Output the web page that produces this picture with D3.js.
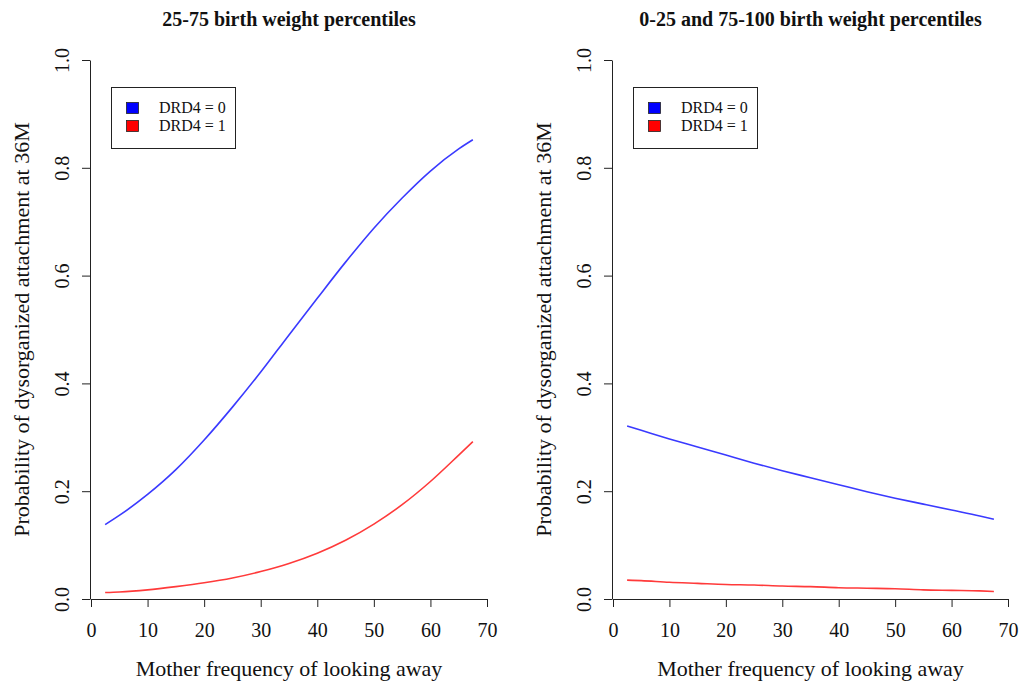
<!DOCTYPE html>
<html><head><meta charset="utf-8">
<script src="https://cdn.jsdelivr.net/npm/d3@7"></script>
<style>body{margin:0;background:#fff}svg{display:block}</style>
</head><body>
<svg id="c" width="1021" height="681"></svg>
<script>
const panelTitles = ["25-75 birth weight percentiles", "0-25 and 75-100 birth weight percentiles"];
const legendLabels = ["DRD4 = 0", "DRD4 = 1"];
const seriesColors = ["#3a3aff", "#ff3a3a"];
const legendColors = ["#0000ff", "#ff0000"];
const xTicks = [0, 10, 20, 30, 40, 50, 60, 70];
const yTicks = [0.0, 0.2, 0.4, 0.6, 0.8, 1.0];
const xLabel = "Mother frequency of looking away";
const yLabel = "Probability of dysorganized attachment at 36M";

// Left panel
const leftX = [2.5, 5, 10, 15, 20, 25, 30, 35, 40, 45, 50, 55, 60, 65, 67.5];
const leftDRD4_0 = [0.138, 0.155, 0.194, 0.240, 0.295, 0.356, 0.421, 0.490, 0.558, 0.625, 0.688, 0.744, 0.794, 0.835, 0.852];
const leftDRD4_1 = [0.012, 0.013, 0.017, 0.023, 0.030, 0.039, 0.051, 0.066, 0.085, 0.109, 0.139, 0.175, 0.218, 0.267, 0.292];
// Right panel
const rightX = [2.5, 5, 10, 15, 20, 25, 30, 35, 40, 45, 50, 55, 60, 65, 67.5];
const rightDRD4_0 = [0.321, 0.313, 0.297, 0.282, 0.267, 0.252, 0.238, 0.225, 0.212, 0.199, 0.187, 0.176, 0.165, 0.154, 0.148];
const rightDRD4_1 = [0.035, 0.034, 0.031, 0.029, 0.027, 0.026, 0.024, 0.023, 0.021, 0.020, 0.019, 0.017, 0.016, 0.015, 0.014];

const panels = [
  {title: panelTitles[0], xs: leftX, series: [leftDRD4_0, leftDRD4_1], x0: 91, x1: 487},
  {title: panelTitles[1], xs: rightX, series: [rightDRD4_0, rightDRD4_1], x0: 613, x1: 1008}
];

const svg = d3.select("#c");
const font = "'Liberation Serif','Times New Roman',Times,serif";
const yTop = 60, yBot = 599;
const axisColor = "#222";

panels.forEach(p => {
  const g = svg.append("g");
  const x = d3.scaleLinear().domain([0, 70]).range([p.x0, p.x1]);
  const y = d3.scaleLinear().domain([0, 1]).range([yBot, yTop]);

  // title
  g.append("text").attr("x", (p.x0 + p.x1) / 2).attr("y", 26)
    .attr("text-anchor", "middle").attr("font-family", font)
    .attr("font-weight", "bold").attr("font-size", 20).attr("fill", "#111")
    .text(p.title);

  // x axis
  const xa = g.append("g").attr("transform", `translate(0,${yBot})`)
    .call(d3.axisBottom(x).tickValues(xTicks).tickFormat(d3.format("d")).tickSize(8).tickSizeOuter(0));
  xa.attr("font-family", font);
  xa.select(".domain").attr("stroke", axisColor);
  xa.selectAll(".tick line").attr("stroke", axisColor);
  xa.selectAll(".tick text").attr("font-family", font).attr("font-size", 20)
    .attr("fill", "#111").attr("dy", null).attr("y", 38);

  // y axis
  const ya = g.append("g").attr("transform", `translate(${p.x0 - 1},0)`)
    .call(d3.axisLeft(y).tickValues(yTicks).tickFormat(d3.format(".1f")).tickSize(8).tickSizeOuter(0));
  ya.attr("font-family", font);
  ya.select(".domain").attr("stroke", axisColor);
  ya.selectAll(".tick line").attr("stroke", axisColor);
  ya.selectAll(".tick text").attr("font-family", font).attr("font-size", 20)
    .attr("fill", "#111").attr("x", null).attr("dy", null)
    .attr("text-anchor", "middle")
    .attr("transform", "translate(-21,0) rotate(-90)");

  // axis labels
  g.append("text").attr("x", (p.x0 + p.x1) / 2).attr("y", 676)
    .attr("text-anchor", "middle").attr("font-family", font).attr("font-size", 22)
    .attr("fill", "#111").text(xLabel);
  g.append("text")
    .attr("transform", `translate(${p.x0 - 62},${(yTop + yBot) / 2}) rotate(-90)`)
    .attr("text-anchor", "middle").attr("font-family", font).attr("font-size", 22)
    .attr("fill", "#111").text(yLabel);

  // lines
  const line = d3.line().x(d => x(d[0])).y(d => y(d[1])).curve(d3.curveMonotoneX);
  p.series.forEach((s, i) => {
    g.append("path").datum(p.xs.map((v, j) => [v, s[j]]))
      .attr("d", line).attr("fill", "none")
      .attr("stroke", seriesColors[i]).attr("stroke-width", 1.6);
  });

  // legend
  const lx = p.x0 + 20, ly = 87;
  g.append("rect").attr("x", lx + 0.5).attr("y", ly + 0.5).attr("width", 124).attr("height", 61)
    .attr("fill", "#fff").attr("stroke", axisColor).attr("stroke-width", 1);
  legendLabels.forEach((lab, i) => {
    g.append("rect").attr("x", lx + 15.5).attr("y", ly + 15.5 + i * 18).attr("width", 12).attr("height", 11)
      .attr("fill", legendColors[i]).attr("stroke", "#222").attr("stroke-width", 0.8);
    g.append("text").attr("x", lx + 48).attr("y", ly + 26 + i * 18)
      .attr("font-family", font).attr("font-size", 16).attr("fill", "#111").text(lab);
  });
});
</script>
</body></html>
